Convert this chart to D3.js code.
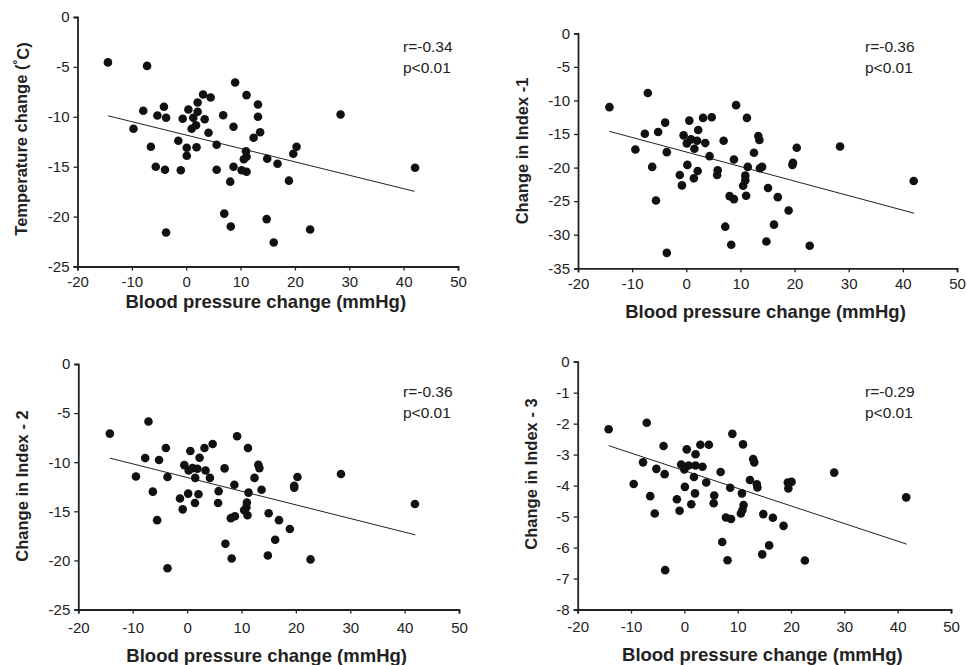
<!DOCTYPE html>
<html>
<head>
<meta charset="utf-8">
<script src="https://cdn.jsdelivr.net/npm/d3@7"></script>
<style>
  body { margin: 0; background: #fff; }
  text { font-family: "Liberation Sans", Arial, sans-serif; fill: #222; }
</style>
</head>
<body>
<svg id="chart" width="967" height="665"></svg>
<script>
// x = blood pressure change (mmHg), y = outcome change
const tempPts = [[-14.4,-4.55],[-7.2,-4.9],[9.0,-6.56],[3.1,-7.76],[4.5,-8.06],[11.1,-7.83],[13.2,-8.77],[-7.9,-9.4],[-4.1,-9.0],[-5.3,-9.87],[-3.7,-10.1],[0.4,-9.27],[2.1,-8.57],[2.1,-9.5],[-0.65,-10.2],[1.3,-10.1],[3.4,-10.24],[6.8,-9.84],[13.2,-10.0],[-9.7,-11.2],[1.8,-10.84],[1.0,-11.2],[4.1,-11.6],[8.7,-11.0],[13.6,-11.55],[12.4,-12.1],[-1.45,-12.4],[-6.5,-13.0],[0.1,-13.1],[1.9,-13.05],[0.1,-13.9],[5.6,-12.8],[11.0,-13.45],[11.1,-14.0],[10.6,-14.25],[-5.6,-15.0],[-3.9,-15.3],[-1.0,-15.36],[5.6,-15.3],[8.7,-15.0],[10.2,-15.36],[11.1,-15.5],[8.1,-16.5],[7.0,-19.7],[8.2,-21.0],[-3.7,-21.6],[28.4,-9.77],[20.3,-13.0],[19.7,-13.7],[14.9,-14.2],[16.8,-14.7],[18.9,-16.4],[42.1,-15.1],[14.8,-20.25],[22.8,-21.3],[16.1,-22.6]];

const index1Pts = [[-14.2,-11.0],[-7.1,-8.9],[-7.65,-14.96],[-5.2,-14.7],[-3.9,-13.3],[-9.4,-17.3],[-3.6,-17.7],[-6.3,-19.9],[-5.6,-24.9],[-3.6,-32.7],[0.56,-13.0],[3.1,-12.6],[4.7,-12.5],[2.2,-14.4],[-0.5,-15.2],[0.87,-15.8],[2.0,-16.0],[0.1,-16.4],[1.5,-17.2],[3.5,-16.35],[4.3,-18.3],[6.9,-16.0],[9.2,-10.7],[8.8,-18.8],[0.2,-19.6],[2.1,-20.5],[-1.2,-21.1],[1.4,-21.6],[5.8,-20.4],[5.7,-21.1],[-0.8,-22.65],[10.5,-22.7],[8.0,-24.25],[8.8,-24.7],[7.2,-28.8],[8.3,-31.5],[11.2,-12.6],[13.3,-15.3],[13.5,-15.9],[20.4,-17.05],[28.4,-16.85],[12.5,-17.8],[11.35,-19.9],[14.0,-19.9],[13.6,-20.1],[19.7,-19.3],[19.6,-19.6],[10.9,-21.2],[10.9,-21.9],[11.05,-24.2],[15.1,-23.05],[16.9,-24.4],[18.9,-26.4],[16.2,-28.5],[14.8,-31.0],[22.8,-31.65],[42.0,-22.0]];

const index2Pts = [[-14.2,-7.09],[-7.1,-5.86],[-7.7,-9.58],[-5.15,-9.78],[-3.9,-8.56],[-9.4,-11.45],[-3.6,-11.5],[-6.3,-13.0],[-5.5,-15.9],[-3.6,-20.8],[0.6,-8.86],[3.2,-8.56],[4.7,-8.15],[2.3,-9.55],[-0.5,-10.3],[1.0,-10.6],[1.9,-10.67],[0.3,-10.84],[1.5,-11.6],[3.4,-10.84],[4.2,-11.6],[6.9,-10.63],[9.2,-7.36],[8.7,-12.3],[0.2,-13.2],[2.1,-13.26],[-1.3,-13.7],[1.45,-14.15],[5.8,-12.95],[5.7,-14.15],[-0.8,-14.8],[11.3,-13.1],[8.05,-15.7],[8.8,-15.5],[7.05,-18.3],[8.2,-19.8],[11.2,-8.56],[12.4,-11.6],[13.1,-10.26],[13.3,-10.6],[13.7,-12.8],[11.0,-14.1],[10.9,-14.6],[10.5,-14.9],[11.1,-15.4],[20.3,-11.5],[19.7,-12.4],[19.7,-12.6],[28.3,-11.2],[15.0,-15.2],[16.9,-15.9],[18.9,-16.8],[16.2,-17.9],[14.85,-19.5],[22.7,-19.9],[41.9,-14.25]];

const index3Pts = [[-14.2,-2.18],[-7.05,-1.97],[-7.75,-3.25],[-5.25,-3.46],[-3.9,-2.72],[-9.5,-3.95],[-3.7,-3.63],[-6.4,-4.34],[-5.55,-4.9],[-3.6,-6.73],[0.45,-2.83],[3.0,-2.68],[4.6,-2.68],[2.1,-2.99],[-0.6,-3.32],[0.8,-3.35],[2.1,-3.35],[0.0,-3.48],[1.8,-3.72],[3.4,-3.39],[4.1,-3.9],[6.8,-3.56],[9.0,-2.33],[8.6,-4.07],[0.1,-4.04],[2.0,-4.25],[-1.4,-4.44],[1.3,-4.6],[5.6,-4.32],[5.5,-4.57],[-0.9,-4.81],[10.8,-4.25],[7.8,-5.03],[8.75,-5.08],[7.1,-5.82],[8.1,-6.41],[11.0,-2.67],[12.9,-3.14],[13.1,-3.25],[12.3,-3.82],[13.6,-3.96],[13.7,-4.06],[11.1,-4.63],[10.9,-4.79],[10.6,-4.9],[19.4,-3.9],[20.1,-3.88],[19.5,-4.09],[28.1,-3.58],[14.8,-4.92],[16.6,-5.04],[18.6,-5.3],[15.9,-5.93],[14.6,-6.22],[22.6,-6.42],[41.6,-4.38]];

// regression lines: intercept, slope, x from / to
const fitLines = [
  {a: -11.83, b: -0.1342, x0: -14.4, x1: 42},
  {a: -17.68, b: -0.2167, x0: -14.2, x1: 42.1},
  {a: -11.56, b: -0.1391, x0: -14.2, x1: 42},
  {a: -3.518, b: -0.0569, x0: -14.2, x1: 41.7}
];

const xTicks = [-20, -10, 0, 10, 20, 30, 40, 50];
const yTicks1 = [0, -5, -10, -15, -20, -25];
const yTicks2 = [0, -5, -10, -15, -20, -25, -30, -35];
const yTicks3 = [0, -5, -10, -15, -20, -25];
const yTicks4 = [0, -1, -2, -3, -4, -5, -6, -7, -8];

const yTitles = ['Temperature change', 'Change in Index -1', 'Change in Index - 2', 'Change in Index - 3'];
const rLabels = ['r=-0.34', 'r=-0.36', 'r=-0.36', 'r=-0.29'];
const pLabels = ['p<0.01', 'p<0.01', 'p<0.01', 'p<0.01'];
const xTitle = 'Blood pressure change (mmHg)';

const panels = [
  {pts: tempPts, yTicks: yTicks1, left: 77.5, right: 458, top: 17, bottom: 266.5, pad: 5.5,
   titleX: 21.5, titleMid: 139, xTitleY: 307.5, statX: 403, statY: 52.3},
  {pts: index1Pts, yTicks: yTicks2, left: 578, right: 957, top: 33.3, bottom: 268.3, pad: 6,
   titleX: 522, titleMid: 151, xTitleY: 318.3, statX: 865, statY: 51.6},
  {pts: index2Pts, yTicks: yTicks3, left: 78.3, right: 459, top: 364, bottom: 609.5, pad: 9,
   titleX: 22, titleMid: 486, xTitleY: 661.6, statX: 403, statY: 397.3},
  {pts: index3Pts, yTicks: yTicks4, left: 577.7, right: 951, top: 361.7, bottom: 609.5, pad: 8,
   titleX: 531, titleMid: 474, xTitleY: 661, statX: 865, statY: 397.3}
];

const svg = d3.select('#chart');
const fmt = d => d3.format('d')(d).replace('\u2212', '-');

panels.forEach((p, i) => {
  const x = d3.scaleLinear().domain([-20, 50]).range([p.left, p.right]);
  const y = d3.scaleLinear().domain(d3.extent(p.yTicks)).range([p.bottom, p.top]);
  const g = svg.append('g');

  const xAxis = g.append('g').attr('transform', `translate(0,${p.bottom})`)
    .call(d3.axisBottom(x).tickValues(xTicks).tickSizeOuter(0).tickSize(4).tickPadding(p.pad).tickFormat(fmt));
  const yAxis = g.append('g').attr('transform', `translate(${p.left},0)`)
    .call(d3.axisLeft(y).tickValues(p.yTicks).tickSizeOuter(0).tickSize(4).tickPadding(4).tickFormat(fmt));
  [xAxis, yAxis].forEach(ax => {
    ax.select('.domain').attr('stroke', '#222').attr('stroke-width', 1.8);
    ax.selectAll('.tick line').attr('stroke', '#222').attr('stroke-width', 1.3);
    ax.selectAll('.tick text').attr('font-size', 15).attr('fill', '#222')
      .attr('font-family', '"Liberation Sans", Arial, sans-serif');
  });

  const f = fitLines[i];
  g.append('line')
    .attr('x1', x(f.x0)).attr('y1', y(f.a + f.b * f.x0))
    .attr('x2', x(f.x1)).attr('y2', y(f.a + f.b * f.x1))
    .attr('stroke', '#222').attr('stroke-width', 1);

  g.selectAll('circle').data(p.pts).enter().append('circle')
    .attr('cx', d => x(d[0])).attr('cy', d => y(d[1]))
    .attr('r', 4.3).attr('fill', '#111');

  g.append('text').attr('x', p.statX).attr('y', p.statY).attr('font-size', 15.5).text(rLabels[i]);
  g.append('text').attr('x', p.statX).attr('y', p.statY + 21).attr('font-size', 15.5).text(pLabels[i]);

  g.append('text')
    .attr('x', (p.left + p.right) / 2 - 2).attr('y', p.xTitleY)
    .attr('text-anchor', 'middle').attr('font-size', 18.5).attr('font-weight', 'bold')
    .text(xTitle);

  const yt = g.append('text')
    .attr('transform', `translate(${p.titleX},${p.titleMid}) rotate(-90)`)
    .attr('dy', '0.35em')
    .attr('text-anchor', 'middle').attr('font-size', 16.5).attr('font-weight', 'bold')
    .text(yTitles[i]);
  if (i === 0) {
    yt.append('tspan').text('  (');
    yt.append('tspan').attr('dy', '-0.45em').attr('font-size', 12).text('°');
    yt.append('tspan').attr('dy', '0.45em').text('C)');
  }
});
</script>
</body>
</html>
